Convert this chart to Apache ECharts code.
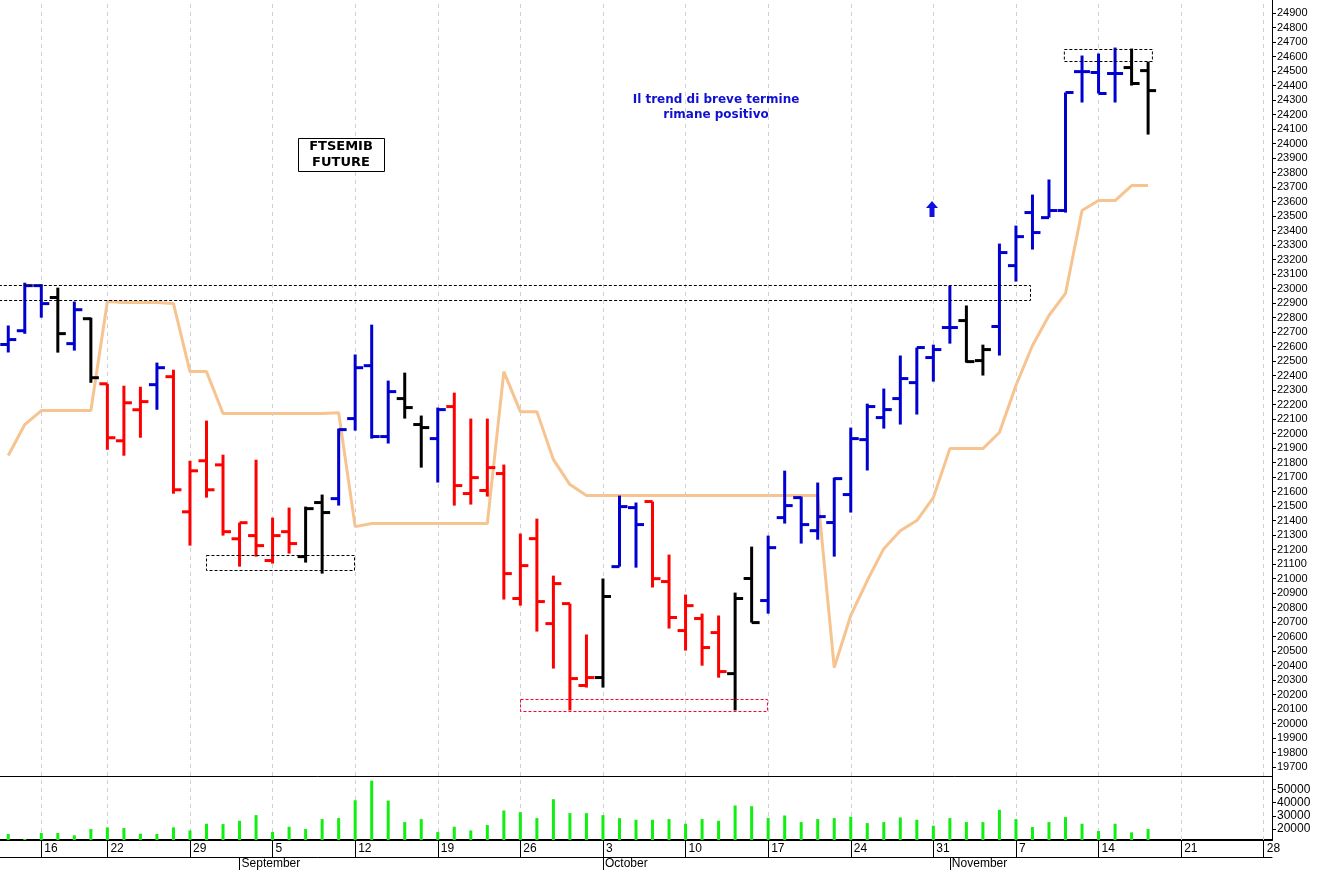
<!DOCTYPE html>
<html>
<head>
<meta charset="utf-8">
<script src="https://cdn.jsdelivr.net/npm/echarts@6/dist/echarts.min.js"></script>
<style>
  html, body { margin: 0; padding: 0; background: #fff; }
  #main { width: 1319px; height: 870px; }
</style>
</head>
<body>
<div id="main"></div>
<script>
// trading days, 2022 (last ones are empty space on the right)
const dates = [
  '08-11','08-12','08-16','08-17','08-18','08-19','08-22','08-23','08-24','08-25','08-26','08-29','08-30','08-31',
  '09-01','09-02','09-05','09-06','09-07','09-08','09-09','09-12','09-13','09-14','09-15','09-16','09-19','09-20',
  '09-21','09-22','09-23','09-26','09-27','09-28','09-29','09-30',
  '10-03','10-04','10-05','10-06','10-07','10-10','10-11','10-12','10-13','10-14','10-17','10-18','10-19','10-20',
  '10-21','10-24','10-25','10-26','10-27','10-28','10-31',
  '11-01','11-02','11-03','11-04','11-07','11-08','11-09','11-10','11-11','11-14','11-15','11-16','11-17','11-18',
  '11-21','11-22','11-23','11-24','11-25','11-28'
]
const monthNames = ['January','February','March','April','May','June','July','August','September','October','November','December']

const open = [22614,22709,23020,22938,22620,22792,22343,21950,22164,22337,22392,21460,21812,21784,21274,21296,21124,21323,21151,21524,
  21551,22103,22468,21979,22241,22062,21965,22186,21586,21607,21724,20862,21275,20689,20827,20262,20317,21082,21489,21531,
  20979,20641,20724,20627,20344,21000,20848,21420,21558,21330,21386,21579,21958,22110,22241,22351,22524,22731,22779,22503,
  22738,23158,23524,23489,23538,24496,24490,24483,24524,24503]
const high = [22745,23040,23030,23006,22910,22799,22343,22330,22323,22489,22440,21812,22089,21854,21385,21819,21420,21489,21496,21579,
  22034,22545,22751,22365,22420,22124,22179,22282,22103,22103,21786,21310,21413,21020,20827,20614,21000,21572,21524,21531,
  21165,20889,20758,20745,20903,21220,21296,21744,21565,21662,21696,22041,22206,22310,22538,22593,22613,23020,22883,22613,
  23310,23434,23648,23752,24352,24607,24621,24662,24655,24565]
const low = [22559,22688,22799,22558,22572,22350,21888,21847,21971,22164,21585,21227,21558,21296,21082,21151,21103,21172,21110,21034,
  21503,22020,21965,21931,22103,21765,21662,21503,21510,21565,20855,20813,20634,20379,20090,20248,20248,21082,21075,20938,
  20655,20503,20399,20316,20090,20696,20758,21379,21241,21268,21151,21455,21745,22034,22062,22131,22358,22620,22489,22400,
  22538,23048,23269,23489,23524,24283,24345,24283,24400,24062]
const close = [22648,23020,22896,22689,22854,22385,21971,22212,22220,22454,21612,21743,21612,21323,21385,21227,21296,21241,21482,21455,
  22027,22454,21979,22289,22179,22041,22165,21641,21696,21765,21034,21089,20841,20965,20310,20317,20876,21496,21372,20999,
  20731,20813,20524,20358,20862,20696,21213,21503,21372,21427,21689,21965,22186,22165,22379,22593,22579,22731,22496,22579,
  23248,23358,23386,23538,24352,24496,24345,24483,24414,24365]
// 1 = up signal, -1 = down signal, 0 = neutral
const trend = [1,1,1,0,1,0,-1,-1,-1,1,-1,-1,-1,-1,-1,-1,-1,-1,0,0,
  1,1,1,1,0,0,1,-1,-1,-1,-1,-1,-1,-1,-1,-1,0,1,1,-1,
  -1,-1,-1,-1,0,0,1,1,1,1,1,1,1,1,1,1,1,1,0,0,
  1,1,1,1,1,1,1,1,0,0]
const stopLine = [21848,22062,22158,22158,22158,22158,22910,22903,22903,22903,22896,22427,22427,22138,22138,22138,22138,22138,22138,22138,
  22144,21358,21379,21379,21379,21379,21379,21379,21379,21379,22427,22151,22151,21820,21648,21572,21572,21572,21572,21572,
  21572,21572,21572,21572,21572,21572,21572,21572,21572,21572,20386,20745,20986,21206,21330,21400,21558,21896,21896,21896,
  22007,22331,22607,22814,22966,23538,23607,23607,23710,23710]
const volume = [16250,12500,17000,17000,15250,20000,21250,20750,16500,16250,21250,19000,24000,23750,26250,30500,17750,21750,20000,27500,
  28250,41750,56500,41500,25250,27500,17750,21750,19000,23000,34000,32750,28250,42500,32000,32000,30500,28250,27000,27000,
  27500,24000,27500,26250,37750,37250,28250,30250,25250,27500,28250,29250,24500,25250,28750,27000,22500,28250,25250,25250,
  34500,27500,21500,25250,29000,24000,18500,24000,17500,20000]
const volumeTicks = [20000, 30000, 40000, 50000]

const priceTicks = []
for (let v = 19700; v <= 24900; v += 100) priceTicks.push(v)

// first trading day of each week, first trading day of each month
const toDate = s => new Date(2022, +s.slice(0, 2) - 1, +s.slice(3))
const weekStarts = []
const monthStarts = []
dates.forEach((d, i) => {
  if (i === 0) return
  const gap = (toDate(d) - toDate(dates[i - 1])) / 86400000
  if (gap > 1) weekStarts.push(i)
  if (d.slice(0, 2) !== dates[i - 1].slice(0, 2)) monthStarts.push(i)
})

const colorOf = t => t > 0 ? '#0000d0' : (t < 0 ? '#ff0000' : '#000000')
const ohlc = open.map((o, i) => [i, o, high[i], low[i], close[i], trend[i]])

const weekLines = {
  silent: true, symbol: 'none', label: {show: false},
  lineStyle: {color: '#d0d0d0', type: [4, 4], width: 1},
  data: weekStarts.map(i => ({xAxis: i}))
}

const xMin = -0.5, xMax = dates.length - 0.5
const axisFont = {fontFamily: 'Liberation Sans, Arial', fontSize: 12, color: '#000'}
const plain = v => String(v)

let myChart = echarts.init(document.getElementById('main'))
let option = {
  animation: false,
  backgroundColor: '#fff',
  grid: [
    {left: 0, right: 47, top: 0, height: 776},
    {left: 0, right: 47, top: 776, height: 64}
  ],
  xAxis: [
    {type: 'value', gridIndex: 0, min: xMin, max: xMax,
      axisLine: {show: true, onZero: false, lineStyle: {color: '#000', width: 1}},
      axisTick: {show: false}, axisLabel: {show: false}, splitLine: {show: false}},
    {type: 'value', gridIndex: 1, min: xMin, max: xMax, position: 'bottom',
      axisLine: {show: true, onZero: false, lineStyle: {color: '#000', width: 2}},
      axisTick: {show: true, inside: false, length: 17, customValues: weekStarts, lineStyle: {color: '#000'}},
      axisLabel: {show: true, customValues: weekStarts, align: 'left', margin: 3, padding: [0, 0, 0, 3],
        formatter: v => String(+dates[Math.round(v)].slice(3)), ...axisFont},
      splitLine: {show: false}},
    {type: 'value', gridIndex: 1, min: xMin, max: xMax, position: 'bottom', offset: 17,
      axisLine: {show: true, onZero: false, lineStyle: {color: '#000', width: 1}},
      axisTick: {show: true, inside: false, length: 14, customValues: monthStarts, lineStyle: {color: '#000'}},
      axisLabel: {show: true, customValues: monthStarts, align: 'left', margin: 1, padding: [0, 0, 0, 2],
        formatter: v => monthNames[+dates[Math.round(v)].slice(0, 2) - 1], ...axisFont},
      splitLine: {show: false}}
  ],
  yAxis: [
    {type: 'value', gridIndex: 0, position: 'right', min: 19638, max: 24990,
      axisLine: {show: true, onZero: false, lineStyle: {color: '#000'}},
      axisTick: {show: true, length: 4, customValues: priceTicks, lineStyle: {color: '#000'}},
      axisLabel: {customValues: priceTicks, margin: 5, formatter: plain, ...axisFont, fontSize: 11},
      splitLine: {show: false}},
    {type: 'value', gridIndex: 1, position: 'right', min: 11750, max: 60000,
      axisLine: {show: true, onZero: false, lineStyle: {color: '#000'}},
      axisTick: {show: true, length: 4, customValues: volumeTicks, lineStyle: {color: '#000'}},
      axisLabel: {customValues: volumeTicks, margin: 5, formatter: plain, ...axisFont},
      splitLine: {show: false}}
  ],
  series: [
    {
      type: 'line', xAxisIndex: 0, yAxisIndex: 0, z: 1,
      data: [], markLine: weekLines
    },
    {
      type: 'line', xAxisIndex: 0, yAxisIndex: 0, z: 2,
      data: stopLine.map((v, i) => [i, v]),
      showSymbol: false, lineStyle: {color: '#f7c38f', width: 3}
    },
    {
      type: 'custom', xAxisIndex: 0, yAxisIndex: 0, z: 5,
      data: ohlc,
      encode: {x: 0, y: [1, 2, 3, 4]},
      renderItem: (params, api) => {
        const x = api.coord([api.value(0), 0])[0]
        const yo = api.coord([0, api.value(1)])[1]
        const yh = api.coord([0, api.value(2)])[1]
        const yl = api.coord([0, api.value(3)])[1]
        const yc = api.coord([0, api.value(4)])[1]
        const style = {stroke: colorOf(api.value(5)), lineWidth: 3}
        return {type: 'group', children: [
          {type: 'line', shape: {x1: x, y1: yh, x2: x, y2: yl}, style},
          {type: 'line', shape: {x1: x - 8, y1: yo, x2: x, y2: yo}, style},
          {type: 'line', shape: {x1: x, y1: yc, x2: x + 8, y2: yc}, style}
        ]}
      }
    },
    {
      type: 'line', xAxisIndex: 1, yAxisIndex: 1, z: 1,
      data: [], markLine: weekLines
    },
    {
      type: 'bar', xAxisIndex: 1, yAxisIndex: 1, z: 5,
      data: volume.map((v, i) => [i, v]),
      barWidth: 3, itemStyle: {color: '#11ee11'}
    }
  ]
}
myChart.setOption(option)

// dashed boxes around the key price zones: [x from, x to, upper, lower, colour]
const zones = [
  [-0.6, 61.85, 23027, 22924, '#000'],
  [11.97, 20.93, 21165, 21062, '#000'],
  [30.98, 45.93, 20172, 20090, '#ff0033'],
  [63.9, 69.23, 24655, 24572, '#000']
]
const graphics = zones.map(z => {
  const p1 = myChart.convertToPixel({gridIndex: 0}, [z[0], z[2]])
  const p2 = myChart.convertToPixel({gridIndex: 0}, [z[1], z[3]])
  return {type: 'rect', z: 10, silent: true,
    shape: {x: p1[0] + 0.5, y: Math.round(p1[1]) + 0.5, width: p2[0] - p1[0], height: Math.round(p2[1] - p1[1])},
    style: {fill: 'none', stroke: z[4], lineWidth: 1, lineDash: [3, 2]}}
})
graphics.push(
  {type: 'rect', z: 10, shape: {x: 298.5, y: 138.5, width: 86, height: 33},
    style: {fill: '#fff', stroke: '#000', lineWidth: 1}},
  {type: 'text', z: 11, x: 341, y: 155, style: {text: 'FTSEMIB\nFUTURE', align: 'center', verticalAlign: 'middle',
    font: 'bold 13px DejaVu Sans', lineHeight: 16, fill: '#000'}},
  {type: 'text', z: 11, x: 716, y: 107, style: {text: 'Il trend di breve termine\nrimane positivo', align: 'center',
    verticalAlign: 'middle', font: 'bold 12px DejaVu Sans', lineHeight: 15, fill: '#1010d0'}},
  {type: 'polygon', z: 11, shape: {points: [[932, 201], [938, 208], [934.5, 208], [934.5, 217], [929.5, 217], [929.5, 208], [926, 208]]},
    style: {fill: '#1010e0'}}
)
myChart.setOption({graphic: graphics})
</script>
</body>
</html>
